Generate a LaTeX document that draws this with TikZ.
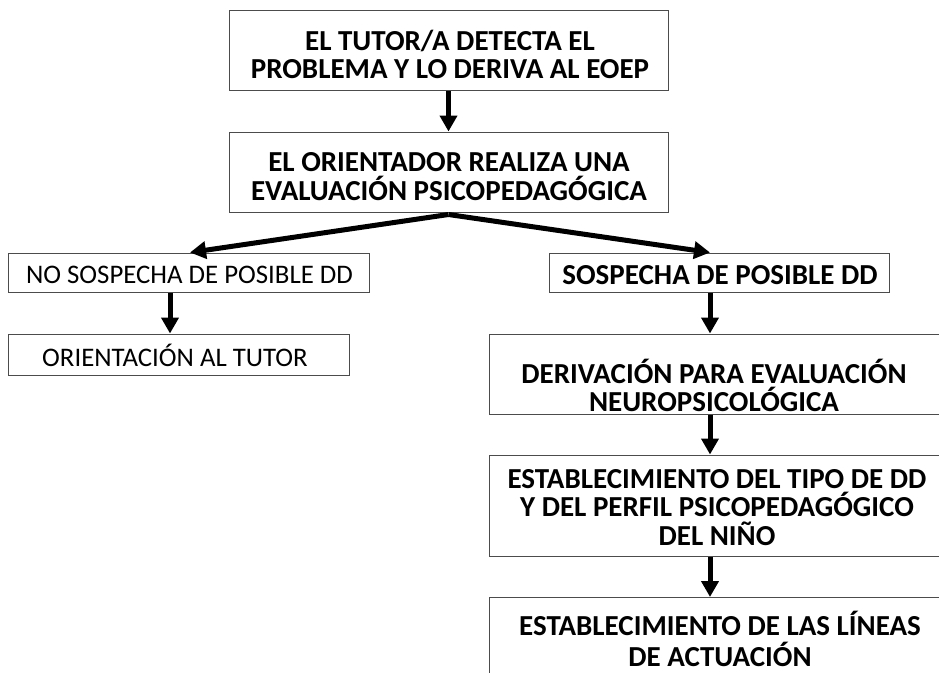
\documentclass[tikz,border=0pt]{standalone}
\usepackage{fontspec}
\setmainfont{Carlito}
\usetikzlibrary{arrows.meta}
\begin{document}
\begin{tikzpicture}[x=1pt,y=-1pt,
  box/.style={draw=black!70, line width=1pt, inner sep=0pt},
  rtxt/.style={inner sep=0pt, align=center, anchor=base, font=\fontsize{26.8}{28.5}\selectfont},
  btxt/.style={inner sep=0pt, align=center, anchor=base, font=\fontsize{29}{28.5}\selectfont\bfseries},
  arr/.style={line width=5pt, -{Triangle[width=17pt,length=16pt]}, black}]
\useasboundingbox (0,0) rectangle (939,672);
% boxes
\node[box, minimum width=439pt, minimum height=80pt] (t1) at (448.5,50.5) {};
\node[box, minimum width=439pt, minimum height=80pt] (t2) at (448.5,172) {};
\node[box, minimum width=361pt, minimum height=39pt] (no) at (188.5,272.5) {};
\node[box, minimum width=341pt, minimum height=41pt] (ori) at (178.5,354.5) {};
\node[box, minimum width=340pt, minimum height=39pt] (sos) at (719,272.5) {};
\node[box, minimum width=454pt, minimum height=80pt] (der) at (716,374) {};
\node[box, minimum width=454pt, minimum height=101pt] (est) at (716,505.5) {};
\node[box, minimum width=454pt, minimum height=101pt, anchor=north] (lin) at (716,597) {};
% texts (base anchor = baseline of the last line)
\node[btxt] (t1t) at (450,78.5) {EL TUTOR/A DETECTA EL\\PROBLEMA Y LO DERIVA AL EOEP};
\node[btxt] (t2t) at (449,200) {EL ORIENTADOR REALIZA UNA\\EVALUACIÓN PSICOPEDAGÓGICA};
\node[rtxt] (not) at (189.5,283) {NO SOSPECHA DE POSIBLE DD};
\node[rtxt] (orit) at (175,366) {ORIENTACIÓN AL TUTOR};
\node[btxt] (sost) at (720,284) {SOSPECHA DE POSIBLE DD};
\node[btxt] (dert) at (714,411.5) {DERIVACIÓN PARA EVALUACIÓN\\NEUROPSICOLÓGICA};
\node[btxt] (estt) at (717,545) {ESTABLECIMIENTO DEL TIPO DE DD\\Y DEL PERFIL PSICOPEDAGÓGICO\\DEL NIÑO};
\node[btxt, font=\fontsize{29}{31}\selectfont\bfseries] (lint) at (720,666.5) {ESTABLECIMIENTO DE LAS LÍNEAS\\DE ACTUACIÓN};
% connectors
\draw[arr] (t1.south) -- (t2.north);
\coordinate (apex) at ([yshift=-2pt]t2.south);
\draw[arr] (apex) -- ([xshift=1.5pt]no.north);
\draw[arr] (apex) -- ([xshift=-9pt]sos.north);
\draw[arr] ([xshift=-18.5pt]no.south) -- ([xshift=-18.5pt]no.south |- ori.north);
\draw[arr] ([xshift=-9pt]sos.south) -- ([xshift=-9pt]sos.south |- der.north);
\draw[arr] ([xshift=-6pt]der.south) -- ([xshift=-6pt]est.north);
\draw[arr] ([xshift=-6pt]est.south) -- ([xshift=-6pt]lin.north);
\end{tikzpicture}
\end{document}
